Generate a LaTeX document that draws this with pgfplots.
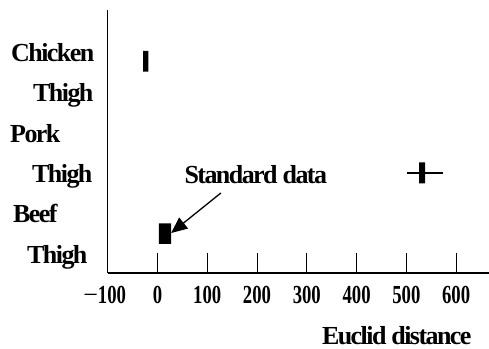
\documentclass[border=0pt]{standalone}
\usepackage{pgfplots}
\pgfplotsset{compat=1.18}
\usepackage{fontspec}
\setmainfont{Liberation Serif}
\newfontfamily\lab{Liberation Serif}[LetterSpace=-6]
\newfontfamily\tickf{Liberation Serif}[FakeStretch=0.72]
\usetikzlibrary{arrows.meta}
\newcommand\LF{\lab\bfseries\fontsize{26bp}{30bp}\selectfont}
\newcommand\TF{\tickf\bfseries\fontsize{26bp}{30bp}\selectfont}
\begin{document}
\begin{tikzpicture}
\useasboundingbox (0,0) rectangle (489bp,349bp);
\begin{axis}[
  at={(107.7bp,76bp)}, anchor=south west,
  scale only axis, width=381.3bp, height=263bp,
  xmin=-100, xmax=666, ymin=0, ymax=263,
  axis x line*=bottom, axis y line*=left,
  axis line style={line width=1.3bp, black},
  xtick={-100,0,100,200,300,400,500,600},
  xticklabels={{\hspace*{-6bp}\LF\fontseries{m}\selectfont −\TF 100},0,100,200,300,400,500,600},
  tick align=inside, major tick length=20bp,
  xtick style={line width=1bp, black},
  ytick={10,50,90,130,171,211},
  yticklabels={\hspace*{17bp}Thigh,\hspace*{3bp}Beef,\hspace*{22bp}Thigh,Pork,\hspace*{23bp}Thigh,\hspace*{1bp}Chicken},
  ytick style={draw=none},
  xticklabel style={font=\TF, anchor=base, yshift=-30.3bp, inner sep=0pt},
  yticklabel style={font=\LF, anchor=base west, inner sep=0pt, xshift=-97.7bp},
  xlabel={Euclid distance},
  xlabel style={font=\LF, at={(axis description cs:0.9546,0)}, anchor=base east, yshift=-71bp, inner sep=0pt},
  clip=false,
]
% Chicken thigh
\addplot[fill=black, draw=none] coordinates {(-28.8,201.3) (-18.2,201.3) (-18.2,222) (-28.8,222) (-28.8,201.3)};
% Pork thigh
\addplot[line width=2.2bp, black] coordinates {(501,100.3) (574.4,100.3)};
\addplot[fill=black, draw=none] coordinates {(525.7,89.7) (537.7,89.7) (537.7,110.7) (525.7,110.7) (525.7,89.7)};
% Beef thigh (standard)
\addplot[fill=black, draw=none] coordinates {(2.6,29) (27.2,29) (27.2,49.7) (2.6,49.7) (2.6,29)};
\node[font=\LF, anchor=base west, inner sep=0pt] at (axis cs:54,89.7) {Standard data};
\draw[line width=1.3bp, -{Triangle[length=16bp,width=14bp]}] (axis cs:127.3,80) -- (axis cs:27.5,40);
\end{axis}
\end{tikzpicture}
\end{document}
